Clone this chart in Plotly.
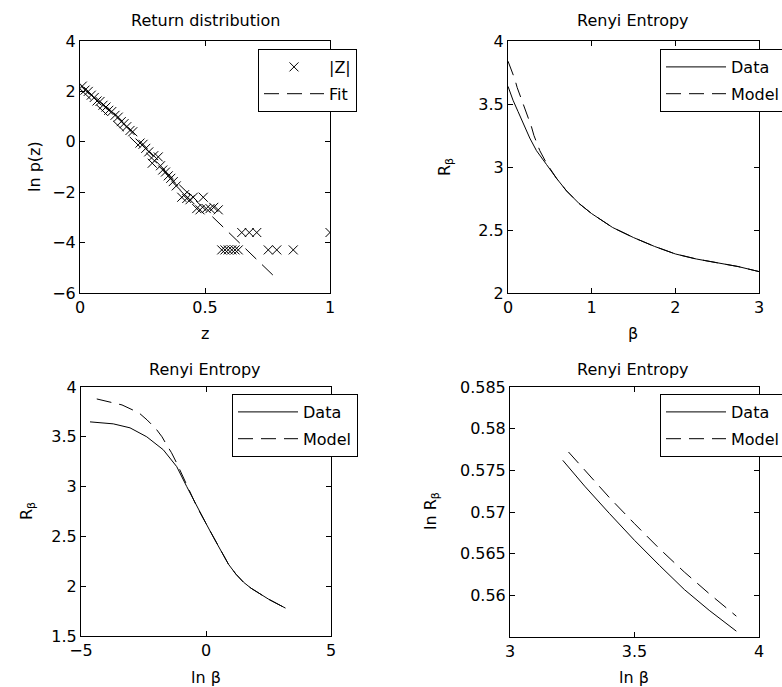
import plotly.graph_objects as go

# ---------------- data ----------------
# Return distribution: |Z| histogram (ln p(z)) and linear fit
z_vals = [0.009, 0.02, 0.033, 0.045, 0.057, 0.068, 0.08, 0.092, 0.104, 0.115,
          0.127, 0.14, 0.153, 0.165, 0.176, 0.187, 0.2, 0.211, 0.24, 0.252,
          0.263, 0.275, 0.289, 0.295, 0.313, 0.322, 0.331, 0.342, 0.353, 0.363,
          0.373, 0.385, 0.407, 0.418, 0.427, 0.44, 0.453, 0.467, 0.48, 0.493,
          0.505, 0.52, 0.535, 0.553,
          0.567, 0.58, 0.593, 0.607, 0.62, 0.633, 0.647, 0.677, 0.707,
          0.753, 0.787, 0.853, 1.0]
lnp_vals = [2.21, 2.05, 2.0, 1.85, 1.76, 1.62, 1.6, 1.45, 1.38, 1.25,
            1.2, 1.05, 0.98, 0.8, 0.72, 0.6, 0.45, 0.4, -0.05, -0.1,
            -0.26, -0.4, -0.85, -0.55, -0.6, -0.95, -1.12, -1.2, -1.35, -1.45,
            -1.58, -1.75, -2.2, -2.1, -2.25, -2.3, -2.2, -2.65, -2.7, -2.2,
            -2.65, -2.65, -2.6, -2.7,
            -4.29, -4.29, -4.29, -4.29, -4.29, -4.29, -3.6, -3.6, -3.6,
            -4.29, -4.29, -4.29, -3.6]
fit_z = [0.0, 0.78]
fit_lnp = [2.1, -5.37]

# Renyi entropy vs beta
beta_data = [0, 0.03, 0.06, 0.12, 0.18, 0.26, 0.34, 0.4, 0.46, 0.58, 0.7, 0.85, 1.0,
             1.25, 1.5, 1.75, 2.0, 2.25, 2.5, 2.75, 3.0]
R_data = [3.64, 3.58, 3.53, 3.44, 3.35, 3.23, 3.13, 3.07, 3.02, 2.91, 2.81, 2.71, 2.63,
          2.52, 2.44, 2.37, 2.31, 2.27, 2.24, 2.21, 2.17]
beta_model = [0, 0.04, 0.08, 0.11, 0.15, 0.18, 0.22, 0.28, 0.31, 0.38, 0.46, 0.58, 0.7, 0.85,
              1.0, 1.25, 1.5, 1.75, 2.0, 2.25, 2.5, 2.75, 3.0]
R_model = [3.84, 3.77, 3.70, 3.63, 3.56, 3.51, 3.44, 3.32, 3.25, 3.13, 3.03, 2.91, 2.81, 2.71,
           2.63, 2.52, 2.44, 2.37, 2.31, 2.27, 2.24, 2.21, 2.17]

# Renyi entropy vs ln beta
lnbeta_data = [-4.64, -3.71, -3.04, -2.37, -1.71, -1.17, -0.77, -0.37, 0.0,
               0.3, 0.6, 0.9, 1.2, 1.5, 1.8, 2.1, 2.5, 2.8, 3.18]
Rln_data = [3.65, 3.63, 3.59, 3.50, 3.37, 3.20, 3.00, 2.80, 2.63,
            2.49, 2.35, 2.22, 2.12, 2.04, 1.98, 1.93, 1.87, 1.83, 1.78]
lnbeta_model = [-4.37, -3.72, -3.36, -2.68, -2.36, -2.0, -1.76, -1.6, -1.38, -1.16, -0.77,
                -0.37, 0.0, 0.3, 0.6, 0.9, 1.2, 1.5, 1.8, 2.1, 2.5, 2.8, 3.18]
Rln_model = [3.88, 3.84, 3.82, 3.74, 3.67, 3.58, 3.50, 3.43, 3.34, 3.23, 3.01,
             2.80, 2.63, 2.49, 2.35, 2.22, 2.12, 2.04, 1.98, 1.93, 1.87, 1.83, 1.78]

# ln R vs ln beta (tail)
lnb_tail_data = [3.212, 3.30, 3.40, 3.50, 3.60, 3.70, 3.80, 3.909]
lnR_tail_data = [0.5762, 0.5731, 0.5698, 0.5666, 0.5636, 0.5607, 0.5582, 0.5557]
lnb_tail_model = [3.235, 3.30, 3.40, 3.50, 3.60, 3.70, 3.80, 3.909]
lnR_tail_model = [0.5772, 0.5750, 0.5717, 0.5686, 0.5656, 0.5628, 0.5602, 0.5575]

# ---------------- figure ----------------
W, H = 782, 687
FONT = "DejaVu Sans"
fig = go.Figure()

dash = "15px,8px"
line_solid = dict(color="black", width=1)
line_dash = dict(color="black", width=1, dash=dash)

fig.add_trace(go.Scatter(x=z_vals, y=lnp_vals, mode="markers", name="|Z|", legendgroup="a",
                         marker=dict(symbol="x-thin", size=9, line=dict(width=1, color="black"), color="black"),
                         xaxis="x", yaxis="y", legend="legend"))
fig.add_trace(go.Scatter(x=fit_z, y=fit_lnp, mode="lines", name="Fit", line=line_dash, legendgroup="b",
                         xaxis="x", yaxis="y", legend="legend"))

fig.add_trace(go.Scatter(x=beta_data, y=R_data, mode="lines", name="Data", line=line_solid, legendgroup="a",
                         xaxis="x2", yaxis="y2", legend="legend2"))
fig.add_trace(go.Scatter(x=beta_model, y=R_model, mode="lines", name="Model", line=line_dash, legendgroup="b",
                         xaxis="x2", yaxis="y2", legend="legend2"))

fig.add_trace(go.Scatter(x=lnbeta_data, y=Rln_data, mode="lines", name="Data", line=line_solid, legendgroup="a",
                         xaxis="x3", yaxis="y3", legend="legend3"))
fig.add_trace(go.Scatter(x=lnbeta_model, y=Rln_model, mode="lines", name="Model", line=line_dash, legendgroup="b",
                         xaxis="x3", yaxis="y3", legend="legend3"))

fig.add_trace(go.Scatter(x=lnb_tail_data, y=lnR_tail_data, mode="lines", name="Data", line=line_solid, legendgroup="a",
                         xaxis="x4", yaxis="y4", legend="legend4"))
fig.add_trace(go.Scatter(x=lnb_tail_model, y=lnR_tail_model, mode="lines", name="Model", line=line_dash, legendgroup="b",
                         xaxis="x4", yaxis="y4", legend="legend4"))


def px_x(p):
    return p / W


def px_y(p):
    return 1 - p / H


def ax(domain, rng, tickvals, anchor):
    return dict(domain=domain, range=rng, tickvals=tickvals, anchor=anchor,
                showline=True, linecolor="black", linewidth=1, mirror="allticks",
                ticks="inside", ticklen=5, tickcolor="black", tickwidth=1,
                showgrid=False, zeroline=False,
                tickfont=dict(family=FONT, size=16, color="black"))


layout = dict(
    width=W, height=H,
    margin=dict(l=0, r=0, t=0, b=0, autoexpand=False),
    paper_bgcolor="white", plot_bgcolor="white",
    font=dict(family=FONT, size=16, color="black"),
    xaxis=ax([px_x(80), px_x(330)], [0, 1], [0, 0.5, 1], "y"),
    yaxis=ax([px_y(293), px_y(41)], [-6, 4], [-6, -4, -2, 0, 2, 4], "x"),
    xaxis2=ax([px_x(508), px_x(759)], [0, 3], [0, 1, 2, 3], "y2"),
    yaxis2=ax([px_y(293), px_y(41)], [2, 4], [2, 2.5, 3, 3.5, 4], "x2"),
    xaxis3=ax([px_x(81), px_x(331)], [-5, 5], [-5, 0, 5], "y3"),
    yaxis3=ax([px_y(636), px_y(387)], [1.5, 4], [1.5, 2, 2.5, 3, 3.5, 4], "x3"),
    xaxis4=ax([px_x(510), px_x(759)], [3, 4], [3, 3.5, 4], "y4"),
    yaxis4=ax([px_y(637), px_y(387)], [0.555, 0.585], [0.56, 0.565, 0.57, 0.575, 0.58, 0.585], "x4"),
)

leg_common = dict(bgcolor="white", bordercolor="black", borderwidth=1,
                  font=dict(family=FONT, size=16, color="black"),
                  itemwidth=60, traceorder="grouped", tracegroupgap=3,
                  xanchor="left", yanchor="top", xref="paper", yref="paper")
layout["legend"] = dict(x=px_x(258), y=px_y(49), **leg_common)
layout["legend2"] = dict(x=px_x(660), y=px_y(49), **leg_common)
layout["legend3"] = dict(x=px_x(232), y=px_y(394), **leg_common)
layout["legend4"] = dict(x=px_x(660), y=px_y(394), **leg_common)

fig.update_layout(**layout)

# titles and axis labels
def ann(text, x, y, angle=0):
    fig.add_annotation(text=text, x=px_x(x), y=px_y(y), xref="paper", yref="paper",
                       showarrow=False, textangle=angle, xanchor="center", yanchor="middle",
                       font=dict(family=FONT, size=16, color="black"))

ann("Return distribution", 205, 21)
ann("Renyi Entropy", 633, 21)
ann("Renyi Entropy", 205, 369)
ann("Renyi Entropy", 633, 369)
ann("z", 205, 334)
ann("β", 633, 334)
ann("ln β", 206, 677)
ann("ln β", 634, 677)
ann("ln p(z)", 35, 167, -90)
ann("R<sub>β</sub>", 446, 167, -90)
ann("R<sub>β</sub>", 27, 511, -90)
ann("ln R<sub>β</sub>", 431, 511, -90)

fig.write_html("out.html",
               config={"displayModeBar": False},
               post_script="document.body.style.margin='0';document.body.style.overflow='hidden';")
